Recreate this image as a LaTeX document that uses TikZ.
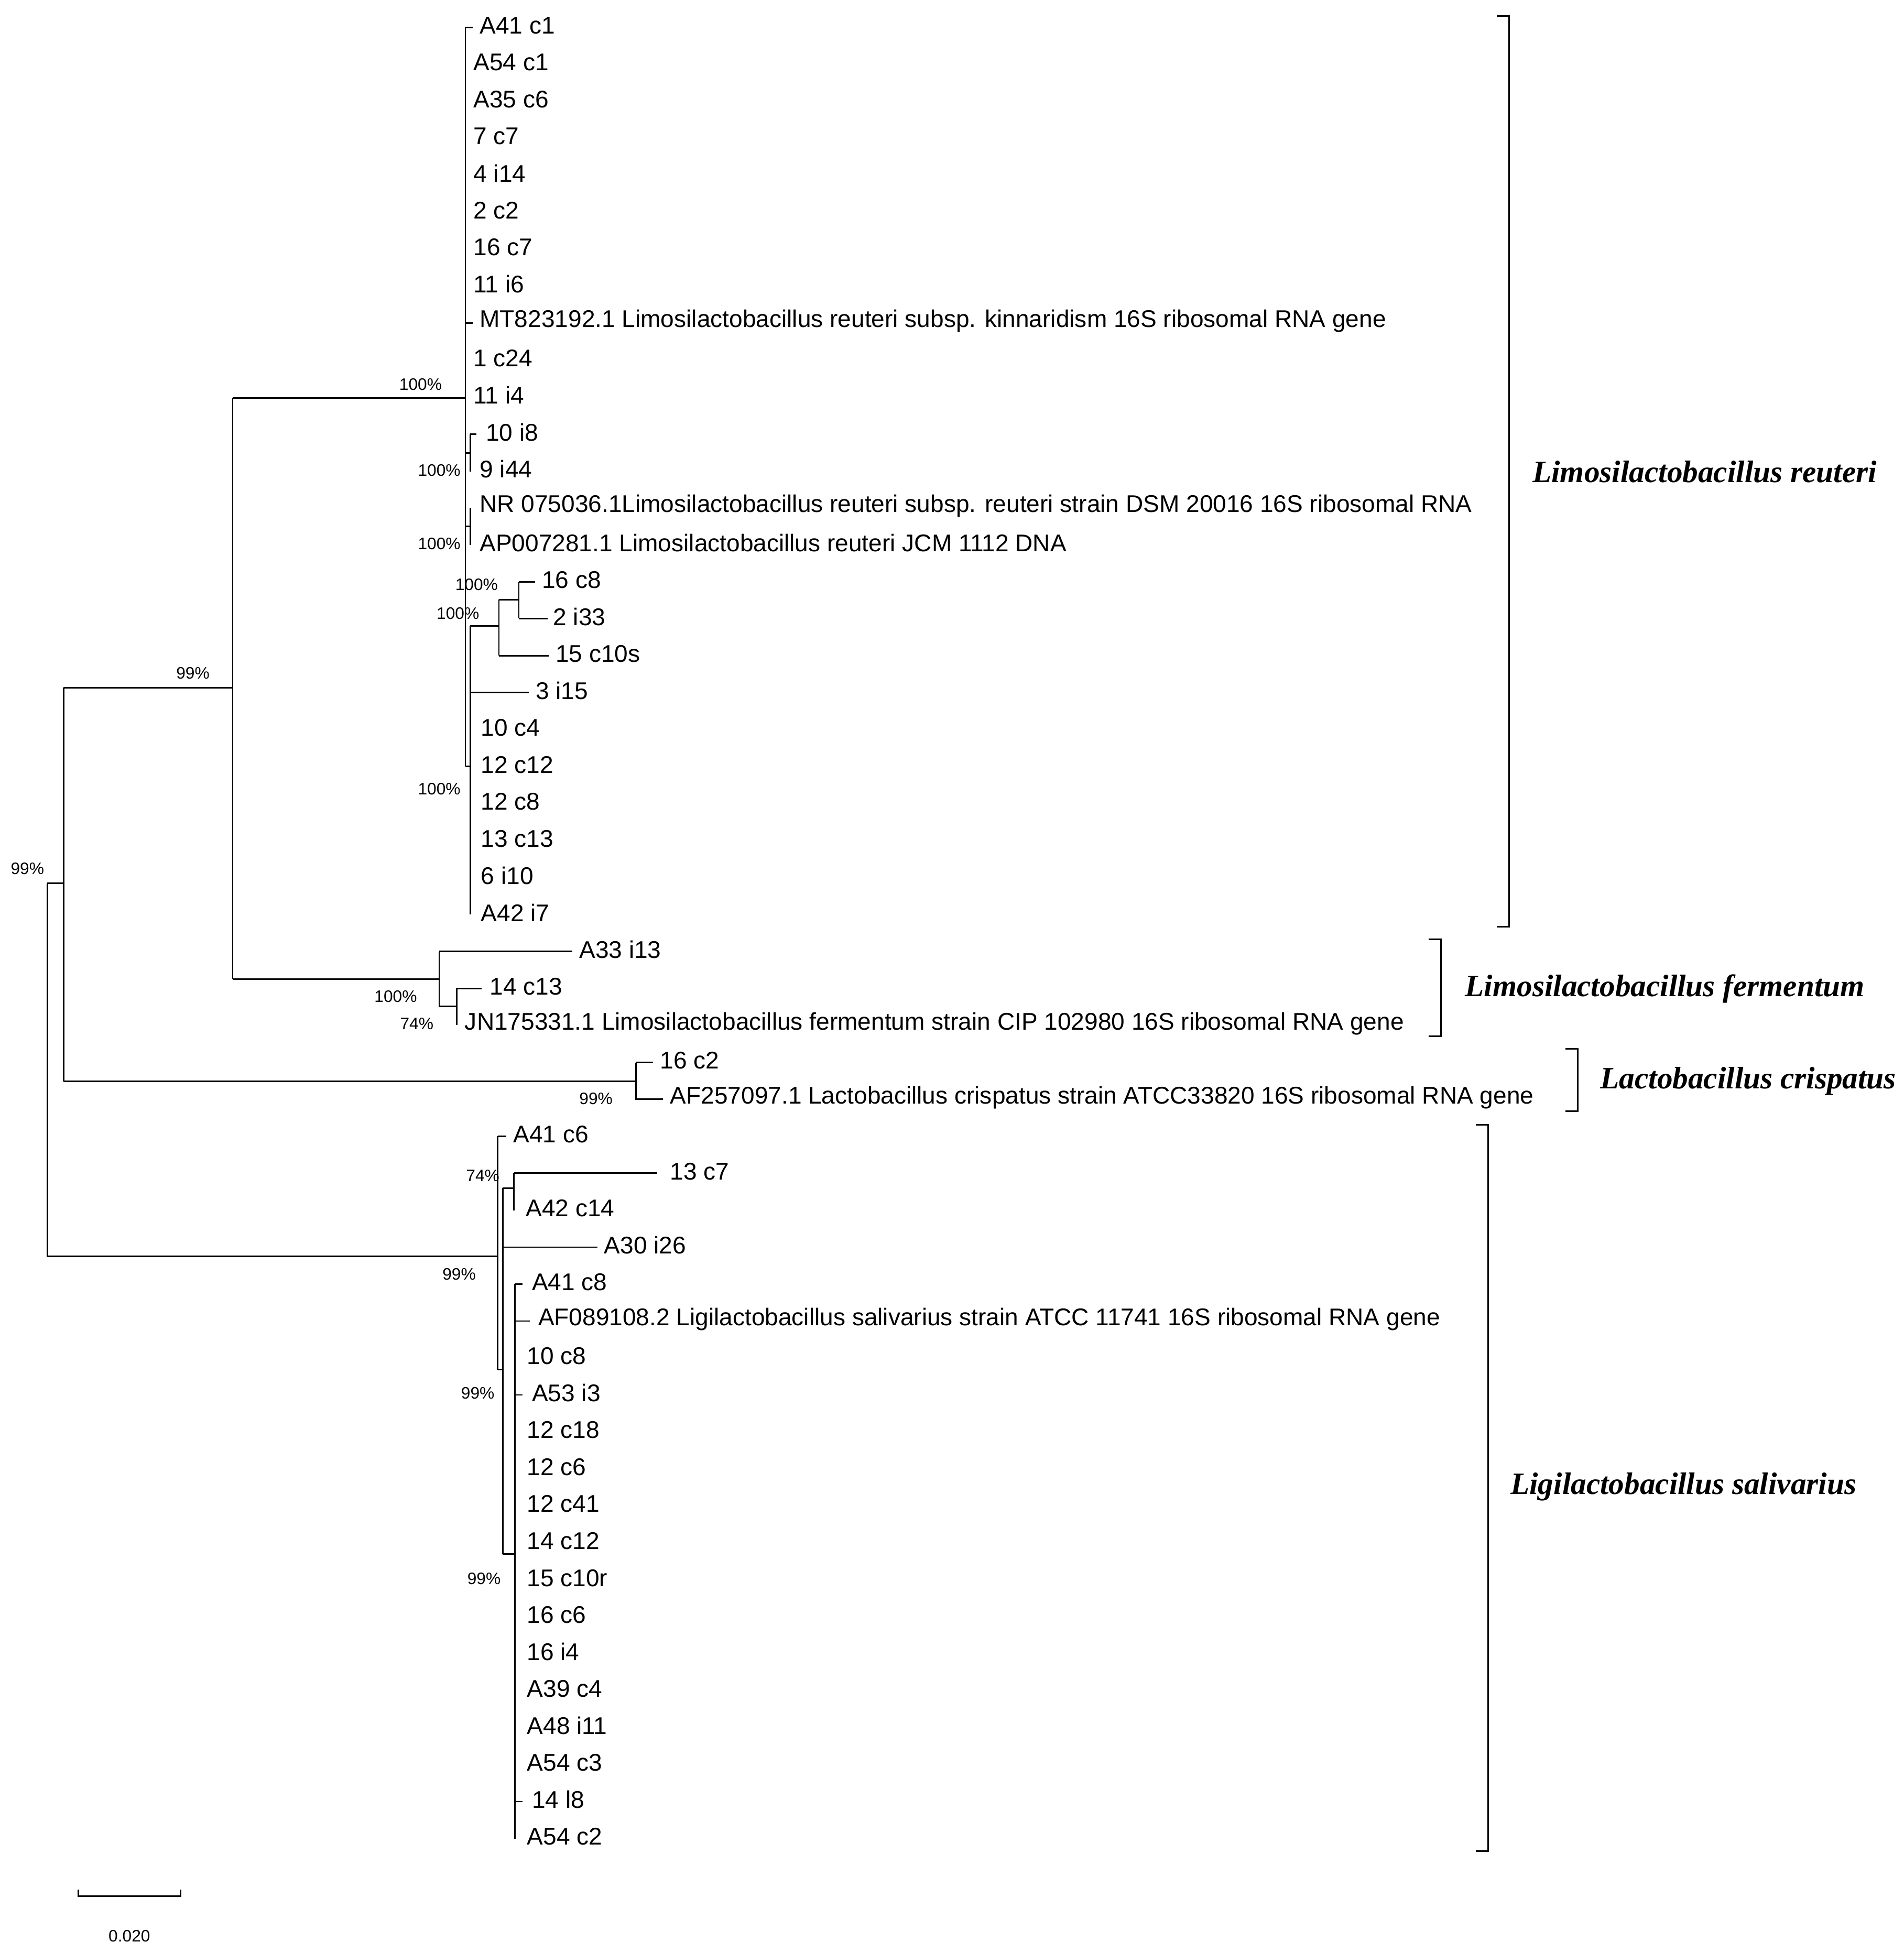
\documentclass[tikz,border=0pt]{standalone}
\usepackage{fontspec}
\setmainfont{Liberation Sans}
\newfontfamily\clfont{Liberation Serif}
\begin{document}
\begin{tikzpicture}[x=0.05cm,y=-0.05cm,line width=1.7pt,
  leaf/.style={anchor=west,inner sep=0pt,font=\fontsize{27.6}{27.6}\selectfont},
  boot/.style={inner sep=0pt,font=\fontsize{19}{19}\selectfont},
  clade/.style={inner sep=0pt,font=\clfont\bfseries\itshape\fontsize{35.5}{35.5}\selectfont}]
\useasboundingbox (0,0) rectangle (1530,1561);
\foreach \r/\xa/\xb/\lx/\t in {
0/374/380/385/A41 c1, 1/374/374/380/A54 c1, 2/374/374/380/A35 c6, 3/374/374/380/7 c7,
4/374/374/380/4 i14, 5/374/374/380/2 c2, 6/374/374/380/16 c7, 7/374/374/380/11 i6,
8/374/380/385/MT823192.1 Limosilactobacillus reuteri subsp. kinnaridism 16S ribosomal RNA gene,
9/374/374/380/1 c24, 10/374/374/380/11 i4, 11/378/383/390/10 i8, 12/378/378/385/9 i44,
13/378/378/385/NR 075036.1Limosilactobacillus reuteri subsp. reuteri strain DSM 20016 16S ribosomal RNA,
14/378/378/385/AP007281.1 Limosilactobacillus reuteri JCM 1112 DNA,
15/417/430/435/16 c8, 16/417/440/444/2 i33, 17/401/441/446/15 c10s, 18/378/425/430/3 i15,
19/378/378/386/10 c4, 20/378/378/386/12 c12, 21/378/378/386/12 c8, 22/378/378/386/13 c13,
23/378/378/386/6 i10, 24/378/378/386/A42 i7,
25/353/460/465/A33 i13, 26/367/387/393/14 c13,
27/367/367/373/JN175331.1 Limosilactobacillus fermentum strain CIP 102980 16S ribosomal RNA gene,
28/511/525/530/16 c2,
29/511/533/538/AF257097.1 Lactobacillus crispatus strain ATCC33820 16S ribosomal RNA gene,
30/400/407/412/A41 c6, 31/413/528/538/13 c7, 32/413/413/422/A42 c14, 33/404/480/485/A30 i26,
34/414/420/427/A41 c8,
35/414/426/432/AF089108.2 Ligilactobacillus salivarius strain ATCC 11741 16S ribosomal RNA gene,
36/414/414/423/10 c8, 37/414/420/427/A53 i3, 38/414/414/423/12 c18, 39/414/414/423/12 c6,
40/414/414/423/12 c41, 41/414/414/423/14 c12, 42/414/414/423/15 c10r, 43/414/414/423/16 c6,
44/414/414/423/16 i4, 45/414/414/423/A39 c4, 46/414/414/423/A48 i11, 47/414/414/423/A54 c3,
48/414/420/427/14 l8, 49/414/414/423/A54 c2} {
  \pgfmathsetmacro\yy{22+29.71*\r}
  \draw (\xa,\yy) -- (\xb,\yy);
  \node[leaf] (L\r) at (\lx,\yy-1.5) {\t};
}
% internal branches
\draw (38,710)--(38,1010) (38,710)--(51,710) (38,1010)--(400,1010);
\draw (51,553)--(51,869) (51,553)--(187,553) (51,869)--(511,869);
\draw (187,320)--(187,787) (187,320)--(374,320) (187,787)--(353,787);
\draw (374,22)--(374,616);
\draw (374,364)--(378,364) (378,349)--(378,379);
\draw (374,423)--(378,423) (378,408)--(378,438);
\draw (374,616)--(378,616) (378,503)--(378,735);
\draw (378,503)--(401,503) (401,482)--(401,527) (401,482)--(417,482) (417,468)--(417,497);
\draw (353,765)--(353,809) (353,809)--(367,809) (367,794)--(367,824);
\draw (511,854)--(511,884);
\draw (400,913)--(400,1101) (400,1101)--(404,1101) (404,955)--(404,1249);
\draw (404,955)--(413,955) (413,943)--(413,973);
\draw (404,1249)--(414,1249) (414,1032)--(414,1478);
% bootstrap
\foreach \x/\y/\t in {338/309/100\%, 353/378/100\%, 353/437/100\%, 383/470/100\%, 368/493/100\%,
  353/634/100\%, 155/541/99\%, 22/698/99\%, 318/801/100\%, 335/823/74\%, 479/883/99\%,
  388/945/74\%, 369/1024/99\%, 384/1120/99\%, 389/1269/99\%}
  \node[boot] at (\x,\y) {\t};
% brackets
\draw (1203,13)--(1213,13)--(1213,745)--(1203,745);
\draw (1148,755)--(1158,755)--(1158,833)--(1148,833);
\draw (1258,843)--(1268,843)--(1268,893)--(1258,893);
\draw (1186,904)--(1196,904)--(1196,1488)--(1186,1488);
\node[clade] (c1) at (1370,379) {Limosilactobacillus reuteri};
\node[clade] (c2) at (1338,795) {Limosilactobacillus fermentum};
\node[clade] (c3) at (1405,869) {Lactobacillus crispatus};
\node[clade] (c4) at (1353,1195) {Ligilactobacillus salivarius};
% scale bar
\draw (63,1519)--(63,1524)--(145,1524)--(145,1519);
\node[boot] (sb) at (104,1556) {0.020};
\end{tikzpicture}
\end{document}
